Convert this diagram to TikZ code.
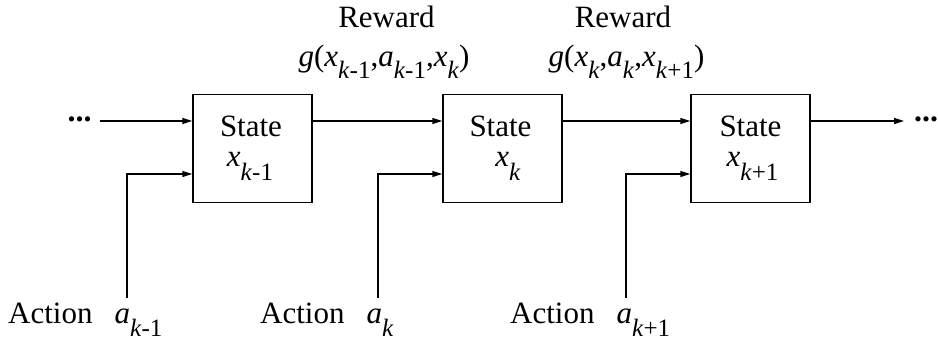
\documentclass[tikz,border=0pt]{standalone}
\usepackage{fontspec}
\setmainfont{Liberation Serif}
\usetikzlibrary{arrows.meta}
\newcommand\vs[3][12pt]{\textit{#2}\raisebox{-#1}{\fontsize{25}{25}\selectfont #3}}
\newcommand\kk{\textit{k}}
\begin{document}
\begin{tikzpicture}[x=1pt,y=-1pt,
  every node/.style={font=\fontsize{31}{36}\selectfont, inner sep=0pt},
  statebox/.style={draw, line width=1.5pt, minimum width=119pt, minimum height=108pt},
  arr/.style={line width=1.5pt, -{Triangle[length=10pt,width=6pt]}},
  lbl/.style={anchor=base},
  dots/.style={anchor=base, font=\fontsize{32}{32}\selectfont\bfseries}]
\useasboundingbox (0,0) rectangle (938,344);
% boxes
\node[statebox] (b1) at (252.5,148.5) {};
\node[statebox] (b2) at (502.5,148.5) {};
\node[statebox] (b3) at (750.5,148.5) {};
% box texts
\node[lbl] (s1) at (251,137) {State};
\node[lbl] (x1) at (250,167) {\vs[14pt]{x}{\kk-1}};
\node[lbl] (s2) at (500.5,137) {State};
\node[lbl] (x2) at (508,167) {\vs[14pt]{x}{\kk}};
\node[lbl] (s3) at (750.5,137) {State};
\node[lbl] (x3) at (752.5,167) {\vs[14pt]{x}{\kk+1}};
% rewards
\node[lbl] (r1) at (386.5,28) {Reward};
\node[lbl] (g1) at (384,67) {\textit{g}(\vs{x}{\kk-1},\vs{a}{\kk-1},\vs{x}{\kk})};
\node[lbl] (r2) at (623,28) {Reward};
\node[lbl] (g2) at (626.5,67) {\textit{g}(\vs{x}{\kk},\vs{a}{\kk},\vs{x}{\kk+1})};
% actions
\node[anchor=base west] (act1) at (8,324) {Action\hspace{22pt}\vs[13pt]{a}{\kk-1}};
\node[anchor=base west] (act2) at (260,324) {Action\hspace{22pt}\vs[13pt]{a}{\kk}};
\node[anchor=base west] (act3) at (510,324) {Action\hspace{22pt}\vs[13pt]{a}{\kk+1}};
% dots
\node[dots] (ld) at (79.5,122) {...};
\node[dots] (rd) at (926,122) {...};
% levels
\coordinate (up) at (0,121);
\coordinate (lo) at (0,174);
\coordinate (s0) at (100,121);
\coordinate (e0) at (904,121);
\coordinate (a1) at (127,298);
\coordinate (a2) at (378,298);
\coordinate (a3) at (626,298);
% connectors
\draw[arr] (s0) -- (b1.west |- up);
\draw[arr] (b1.east |- up) -- (b2.west |- up);
\draw[arr] (b2.east |- up) -- (b3.west |- up);
\draw[arr] (b3.east |- up) -- (e0);
\draw[arr] (a1) |- (b1.west |- lo);
\draw[arr] (a2) |- (b2.west |- lo);
\draw[arr] (a3) |- (b3.west |- lo);
\end{tikzpicture}
\end{document}
